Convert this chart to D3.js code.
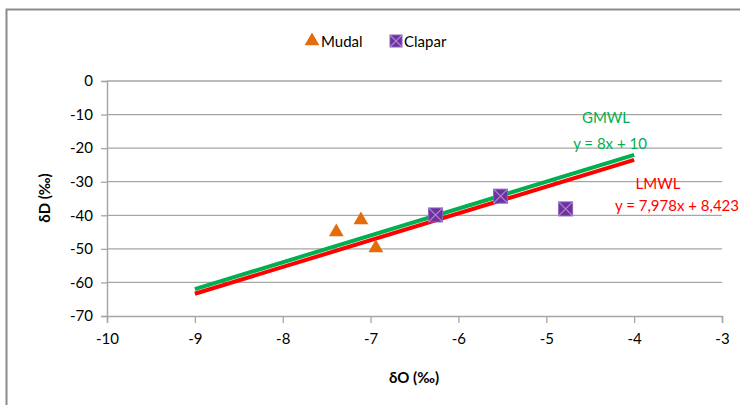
<!DOCTYPE html>
<html>
<head>
<meta charset="utf-8">
<script src="https://cdn.jsdelivr.net/npm/d3@7"></script>
<style>
  body { margin: 0; background: #fff; }
  text { font-family: Lato, "Open Sans", sans-serif; }
</style>
</head>
<body>
<svg id="chart" width="740" height="405"></svg>
<script>
// data
const mudalX = [-7.39, -7.11, -6.94];
const mudalY = [-45, -41.4, -49.7];
const claparX = [-6.26, -5.52, -4.78];
const claparY = [-39.9, -34.3, -38.1];
const lineX = [-9, -4];
const gmwl = { slope: 8, icpt: 10 };
const lmwl = { slope: 7.978, icpt: 8.423 };
const xTicks = [-10, -9, -8, -7, -6, -5, -4, -3];
const yTicks = [0, -10, -20, -30, -40, -50, -60, -70];

const svg = d3.select("#chart");
const plotL = 107, plotR = 722, plotT = 81, plotB = 316;

const x = d3.scaleLinear().domain([-10, -3]).range([plotL, plotR]);
const y = d3.scaleLinear().domain([-70, 0]).range([plotB, plotT]);

// outer frame
svg.append("rect")
  .attr("x", 6.5).attr("y", 9.5).attr("width", 760).attr("height", 420)
  .attr("fill", "none").attr("stroke", "#8c8c8c").attr("stroke-width", 2);

// gridlines
svg.append("g").selectAll("line")
  .data(yTicks.slice(0, -1))
  .enter().append("line")
  .attr("x1", plotL).attr("x2", plotR)
  .attr("y1", d => y(d)).attr("y2", d => y(d))
  .attr("stroke", "#a6a6a6").attr("stroke-width", 1.3);

// axes
const yAxis = svg.append("g")
  .attr("transform", `translate(${plotL},0)`)
  .call(d3.axisLeft(y).tickValues(yTicks).tickSize(6).tickPadding(8));
const xAxis = svg.append("g")
  .attr("transform", `translate(0,${plotB})`)
  .call(d3.axisBottom(x).tickValues(xTicks).tickSize(7).tickPadding(10));

[xAxis, yAxis].forEach(a => {
  a.select(".domain").attr("stroke", "#a6a6a6").attr("stroke-width", 1.5);
  a.selectAll(".tick line").attr("stroke", "#a6a6a6").attr("stroke-width", 1.3);
  a.selectAll(".tick text").attr("font-size", 15).attr("fill", "#000")
    .attr("font-family", "Lato, 'Open Sans', sans-serif")
    .text(d => String(d).replace("\u2212", "-"));
});

// axis titles
svg.append("text")
  .attr("x", 414).attr("y", 383)
  .attr("text-anchor", "middle").attr("font-size", 15).attr("font-weight", "bold")
  .text("δO (‰)");
svg.append("text")
  .attr("transform", "translate(50,198) rotate(-90)")
  .attr("text-anchor", "middle").attr("font-size", 15).attr("font-weight", "bold")
  .text("δD (‰)");

// regression lines
const line = d3.line().x(d => x(d[0])).y(d => y(d[1]));
[[gmwl, "#00b050"], [lmwl, "#ff0000"]].forEach(([l, c]) => {
  svg.append("path")
    .datum(lineX.map(v => [v, l.slope * v + l.icpt]))
    .attr("d", line)
    .attr("fill", "none").attr("stroke", c).attr("stroke-width", 4);
});

// markers
const tri = d3.symbol().type(d3.symbolTriangle).size(95);
svg.append("g").selectAll("path")
  .data(mudalX.map((v, i) => [v, mudalY[i]]))
  .enter().append("path")
  .attr("d", tri)
  .attr("transform", d => `translate(${x(d[0])},${y(d[1])})`)
  .attr("fill", "#e46c0a");

function square(g, cx, cy, s) {
  g.append("rect").attr("x", cx - s / 2).attr("y", cy - s / 2)
    .attr("width", s).attr("height", s)
    .attr("fill", "#7030a0").attr("stroke", "#8a64b8").attr("stroke-width", 1);
  g.append("path")
    .attr("d", `M${cx - s / 2},${cy - s / 2}L${cx + s / 2},${cy + s / 2}M${cx + s / 2},${cy - s / 2}L${cx - s / 2},${cy + s / 2}`)
    .attr("stroke", "#a88bcf").attr("stroke-width", 1.2);
}
const sq = svg.append("g");
claparX.forEach((v, i) => square(sq, x(v), y(claparY[i]), 14));

// legend
svg.append("path").attr("d", tri).attr("transform", "translate(312,41)").attr("fill", "#e46c0a");
svg.append("text").attr("x", 321).attr("y", 47).attr("font-size", 15).text("Mudal");
square(svg, 396, 41, 12);
svg.append("text").attr("x", 404).attr("y", 47).attr("font-size", 15).text("Clapar");

// labels
const labels = [
  { t: "GMWL", x: 606, y: 123, c: "#00b050" },
  { t: "y = 8x + 10", x: 610, y: 149, c: "#00b050" },
  { t: "LMWL", x: 658, y: 189, c: "#ff0000" },
  { t: "y = 7,978x + 8,423", x: 677, y: 211, c: "#ff0000" }
];
svg.append("g").selectAll("text")
  .data(labels).enter().append("text")
  .attr("x", d => d.x).attr("y", d => d.y)
  .attr("text-anchor", "middle").attr("font-size", 15)
  .attr("fill", d => d.c).text(d => d.t);
</script>
</body>
</html>
